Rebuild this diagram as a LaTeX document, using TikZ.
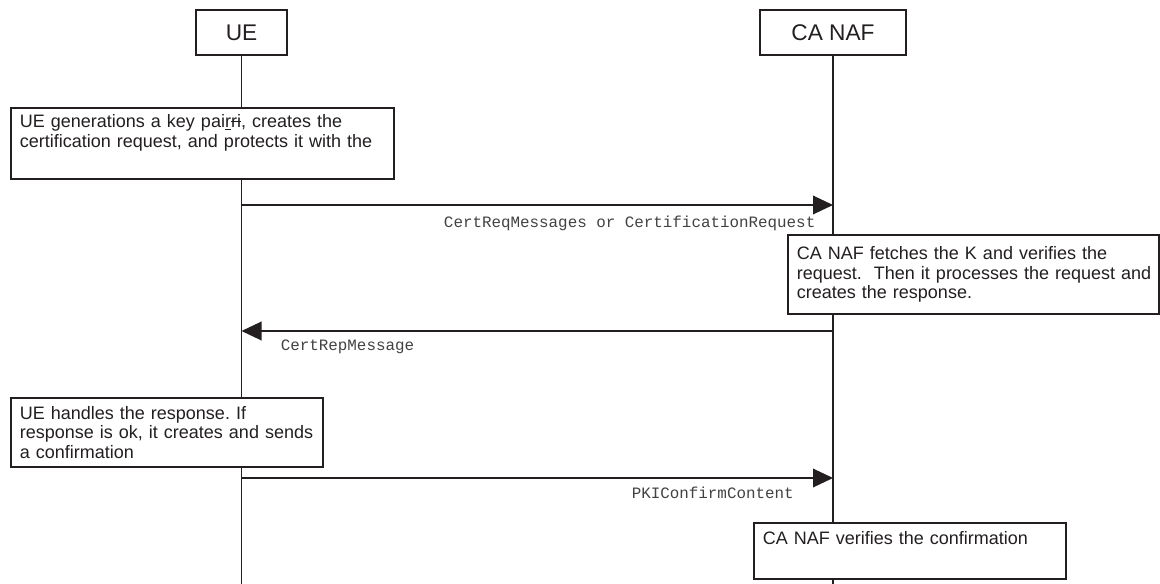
\documentclass[tikz,border=0pt]{standalone}
\usepackage{fontspec}
\setmainfont{Liberation Sans}
\setmonofont{Liberation Mono}
\usetikzlibrary{arrows.meta,positioning}
\definecolor{myink}{RGB}{35,31,32}
\newcommand{\struck}[1]{\setbox0\hbox{#1}\rlap{\rule[0.3em]{\wd0}{0.07em}}\box0}
\frenchspacing

\begin{document}
\begin{tikzpicture}[x=0.75pt,y=-0.75pt,color=myink,line width=1pt,
  entity/.style={draw,line width=1.4pt,minimum height=33.75pt,
    font=\fontsize{17}{20}\selectfont},
  notebox/.style={draw,fill=white,line width=1.4pt,anchor=north west,
    align=left,inner xsep=6.75pt,font=\fontsize{13.5}{14.5}\selectfont},
  msg/.style={-{Triangle[length=15pt,width=14pt]}},
  msglbl/.style={inner sep=0pt,text=myink!85,font=\fontsize{11.9}{13}\ttfamily}]

  \useasboundingbox (0,0) rectangle (1160,584);

  % the two parties
  \node[entity,minimum width=68.25pt] (ue) at (241.5,32.5) {UE};
  \node[entity,minimum width=109.5pt] (naf) at (833,32.5) {CA NAF};

  % draw life lines
  \coordinate (ueend) at (ue |- 0,584);
  \coordinate (nafend) at (naf |- 0,584);
  \draw (ue) -- (ueend)
        (naf) -- (nafend);

  % steps on the UE side
  \node[notebox,text width=273.75pt,minimum height=53.25pt] (keygen) at (10,107)
    {UE generations a key pai\underline{r}\struck{ri}, creates the\\
     \mbox{certification request, and protects it with the}\\ \strut};
  \node[notebox,text width=220.5pt,minimum height=51.75pt] (handle) at (10,397)
    {UE handles the response. If\\
     \mbox{response is ok, it creates and sends}\\
     a confirmation};

  % steps on the CA NAF side
  \node[notebox,text width=264.75pt,minimum height=59.25pt] (verify) at (787,234)
    {CA NAF fetches the K and verifies the\\
     \mbox{request.\ \ Then it processes the request and}\\
     creates the response.};
  \node[notebox,text width=220.5pt,minimum height=42pt] (confirm) at (753,522)
    {CA NAF verifies the confirmation\\ \strut};

  % messages
  \coordinate (req0) at (ue |- 0,205);
  \coordinate (req1) at (naf |- 0,205);
  \coordinate (rep0) at (naf |- 0,331);
  \coordinate (rep1) at (ue |- 0,331);
  \coordinate (conf0) at (ue |- 0,478);
  \coordinate (conf1) at (naf |- 0,478);
  \draw[msg] (req0) -- (req1);
  \draw[msg] (rep0) -- (rep1);
  \draw[msg] (conf0) -- (conf1);

  \node[msglbl,anchor=east] (reqlbl) at ([xshift=-12.75pt,yshift=-13.5pt]req1)
    {CertReqMessages or CertificationRequest};
  \node[msglbl,anchor=west] (replbl) at ([xshift=29pt,yshift=-12pt]rep1)
    {CertRepMessage};
  \node[msglbl,anchor=east] (conflbl) at ([xshift=-29pt,yshift=-11pt]conf1)
    {PKIConfirmContent};

\end{tikzpicture}
\end{document}
